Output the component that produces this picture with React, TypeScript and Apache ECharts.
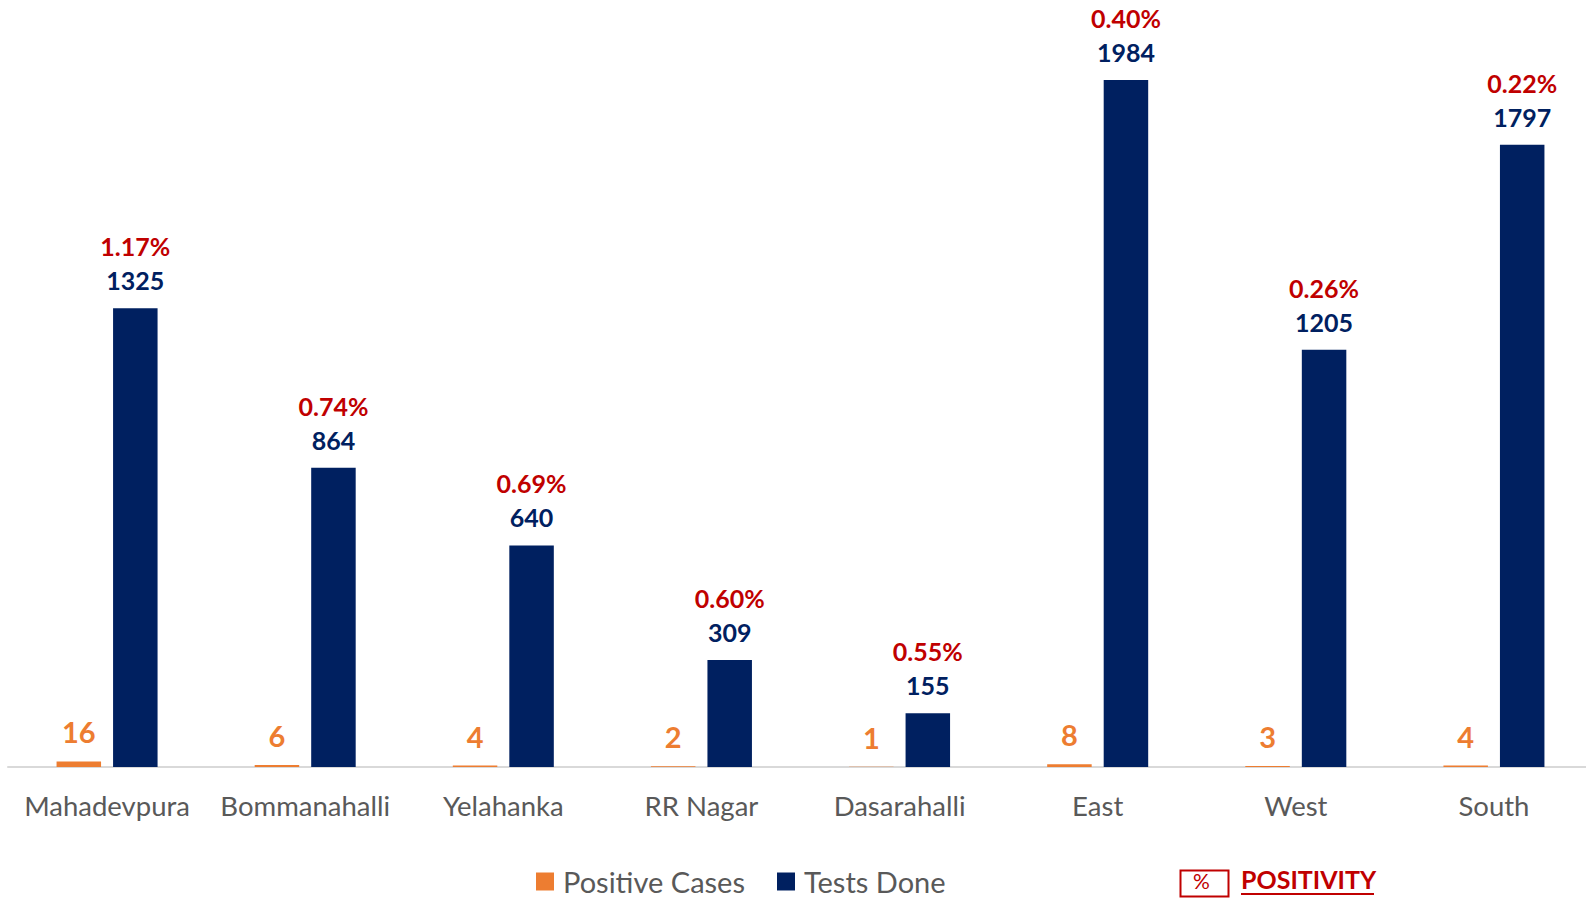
import React, { useEffect, useRef } from "react";
import * as echarts from "echarts";

const categories = ["Mahadevpura", "Bommanahalli", "Yelahanka", "RR Nagar", "Dasarahalli", "East", "West", "South"];
const positiveCases = [16, 6, 4, 2, 1, 8, 3, 4];
const testsDone = [1325, 864, 640, 309, 155, 1984, 1205, 1797];
const positivity = ["1.17%", "0.74%", "0.69%", "0.60%", "0.55%", "0.40%", "0.26%", "0.22%"];

const FONT = "Lato, 'Noto Sans', sans-serif";

export default function App() {
  const ref = useRef<HTMLDivElement>(null);
  useEffect(() => {
    const chart = echarts.init(ref.current!, undefined, { renderer: "svg" });
    chart.setOption({
      animation: false,
      textStyle: { fontFamily: FONT },
      grid: { left: 8, width: 1585, top: 80, bottom: 131, containLabel: false },
      legend: {
        data: ["Positive Cases", "Tests Done"],
        left: 536,
        top: 867,
        padding: 0,
        itemWidth: 18,
        itemHeight: 18,
        itemGap: 32,
        icon: "rect",
        textStyle: { fontSize: 29, color: "#595959", fontFamily: FONT, padding: [0, 0, 0, 4] },
      },
      xAxis: {
        type: "category",
        data: categories,
        axisLine: { lineStyle: { color: "#D9D9D9", width: 2 } },
        axisTick: { show: false },
        axisLabel: { color: "#595959", fontSize: 27.5, margin: 24, fontFamily: FONT, interval: 0 },
      },
      yAxis: {
        type: "value",
        min: 0,
        max: 1984,
        show: false,
        splitLine: { show: false },
      },
      series: [
        {
          name: "Positive Cases",
          type: "bar",
          data: positiveCases,
          barWidth: 44.5,
          barGap: "27%",
          itemStyle: { color: "#ED7D31" },
          label: {
            show: true,
            position: "top",
            distance: 15,
            color: "#ED7D31",
            fontSize: 29,
            fontWeight: "bold",
            fontFamily: FONT,
          },
        },
        {
          name: "Tests Done",
          type: "bar",
          data: testsDone,
          barWidth: 44.5,
          itemStyle: { color: "#002060" },
          label: {
            show: true,
            position: "top",
            distance: 11,
            formatter: (p: any) => `{p|${positivity[p.dataIndex]}}\n{v|${p.value}}`,
            rich: {
              p: { color: "#C00000", fontSize: 25, fontWeight: "bold", fontFamily: FONT, lineHeight: 34 },
              v: { color: "#002060", fontSize: 25, fontWeight: "bold", fontFamily: FONT, lineHeight: 34 },
            },
          },
        },
      ],
      graphic: [
        {
          type: "rect",
          left: 1178,
          top: 868,
          shape: { width: 48, height: 26 },
          style: { fill: "none", stroke: "#C00000", lineWidth: 2 },
        },
        {
          type: "text",
          left: 1193,
          top: 870,
          style: { text: "%", fill: "#C00000", fontSize: 21, fontFamily: FONT },
        },
        {
          type: "text",
          left: 1241,
          top: 866,
          style: { text: "POSITIVITY", fill: "#C00000", fontSize: 25, fontWeight: "bold", fontFamily: FONT },
        },
        {
          type: "line",
          shape: { x1: 1241, y1: 894, x2: 1374, y2: 894 },
          style: { stroke: "#C00000", lineWidth: 2 },
        },
      ],
    });
    return () => chart.dispose();
  }, []);
  return (
    <div style={{ position: "absolute", left: 0, top: 0, width: 1586, height: 898, overflow: "hidden" }}>
      <div ref={ref} style={{ position: "absolute", left: 0, top: 0, width: 1600, height: 898 }} />
    </div>
  );
}
